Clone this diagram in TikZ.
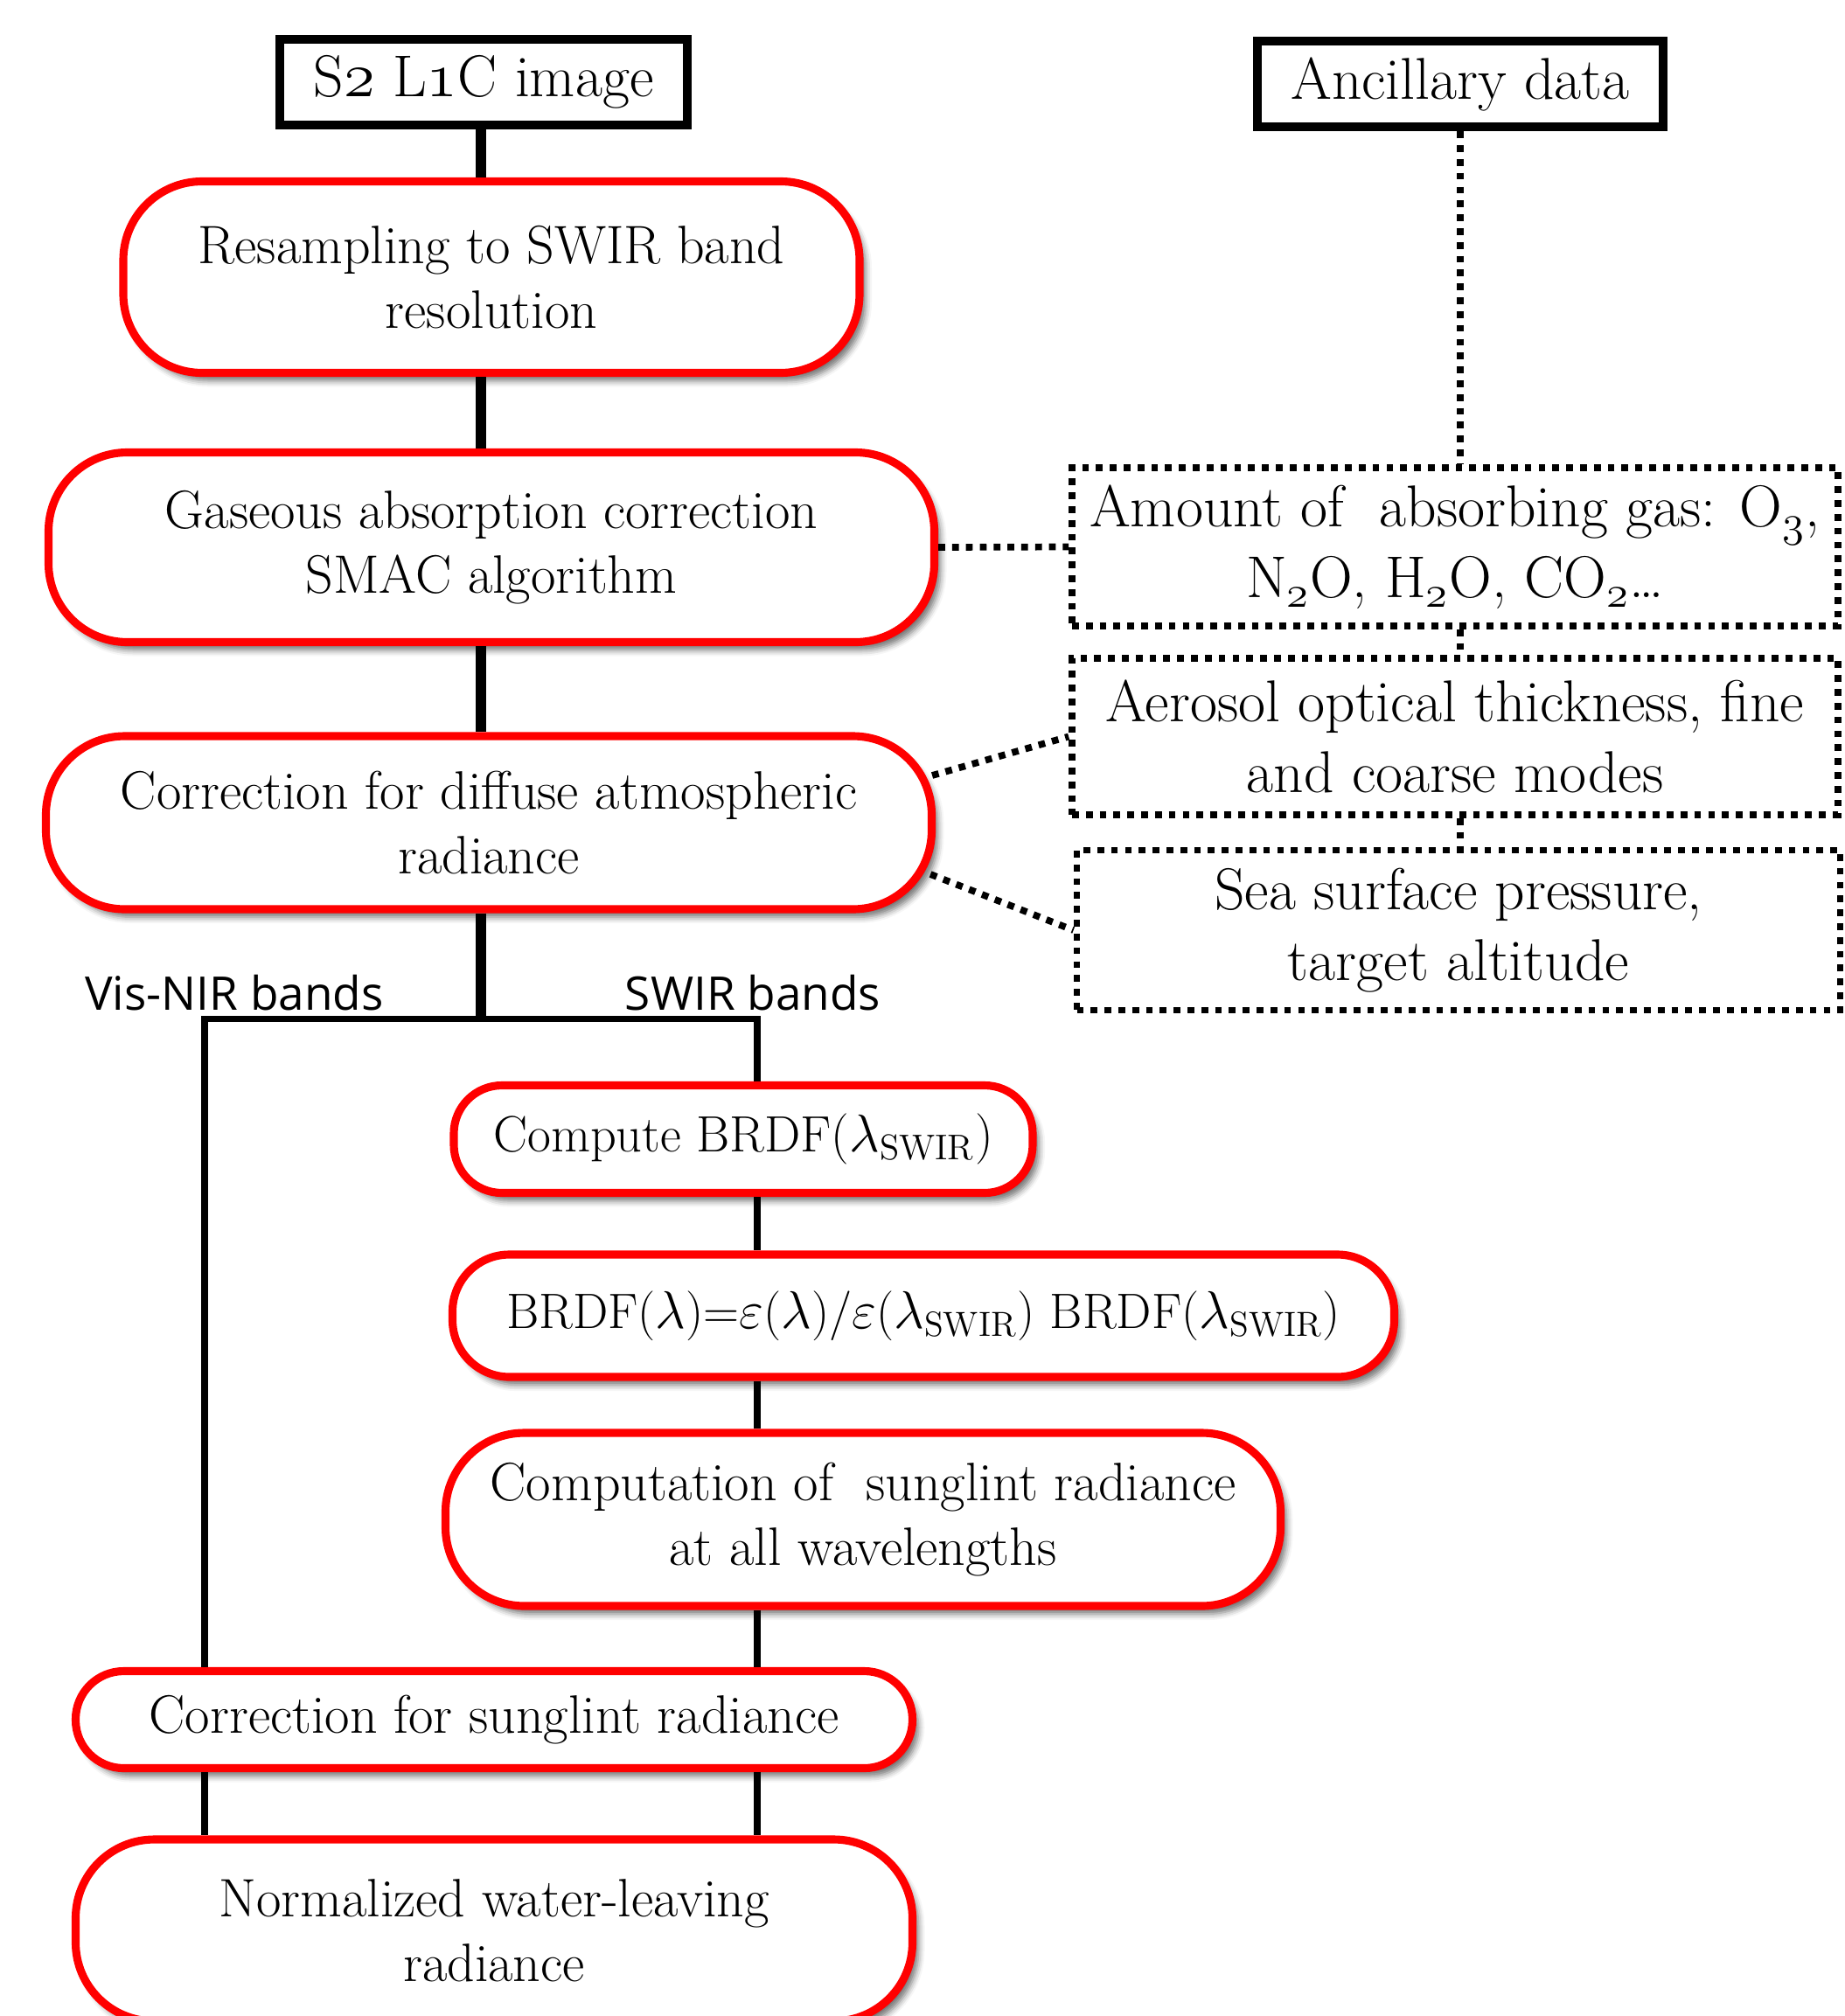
\documentclass[tikz,border=0pt]{standalone}
\usepackage{fontspec}
\setsansfont{Open Sans}
\usetikzlibrary{shadows.blur}
\newcommand{\osn}[1]{\ensuremath{\mathnormal{#1}}}
\begin{document}
\begin{tikzpicture}[
  redbox/.style={draw=red, line width=2.6pt, fill=white, rounded corners=0.9cm,
    blur shadow={shadow xshift=0.07cm, shadow yshift=-0.09cm, shadow blur radius=0.07cm, shadow opacity=55},
    align=center, inner sep=0pt, font=\fontsize{17.6}{21}\selectfont},
  shortbox/.style={redbox, rounded corners=0.55cm},
  blackbox/.style={draw, line width=3pt, fill=white, inner sep=0pt,
    font=\fontsize{19.2}{22}\selectfont},
  dotbox/.style={draw, line width=2.2pt, dash pattern=on 2.2pt off 2.3pt, align=center,
    inner sep=0pt, font=\fontsize{19.2}{23}\selectfont},
  trunk/.style={line width=3.2pt},
  branch/.style={line width=2pt},
  dotline/.style={line width=2.2pt, dash pattern=on 2.2pt off 2.3pt},
  bandlabel/.style={anchor=base, font=\sffamily\fontsize{15.1}{18}\selectfont}]
  \useasboundingbox (0,0) rectangle (21.10,-23.06);

  \node (s2) at (5.53,-0.94) [blackbox, minimum width=4.66cm, minimum height=0.98cm] {S\osn{2} L\osn{1}C image};
  \node (ancil) at (16.70,-0.96) [blackbox, minimum width=4.64cm, minimum height=0.98cm] {Ancillary data};

  \node (resamp) at (5.62,-3.17) [redbox, minimum width=8.42cm, minimum height=2.19cm] {Resampling to SWIR band\\resolution};
  \node (gas) at (5.62,-6.26) [redbox, minimum width=10.13cm, minimum height=2.17cm] {Gaseous absorption correction\\SMAC algorithm};
  \node (diffuse) at (5.59,-9.41) [redbox, minimum width=10.13cm, minimum height=1.98cm] {Correction for diffuse atmospheric\\radiance};
  \node (compute) at (8.50,-13.03) [shortbox, font=\fontsize{16.6}{20}\selectfont, minimum width=6.62cm, minimum height=1.23cm] {Compute BRDF($\lambda_{\mathrm{SWIR}}$)};
  \node (brdf) at (10.56,-15.05) [shortbox, font=\fontsize{16.2}{20}\selectfont, rounded corners=0.65cm, minimum width=10.77cm, minimum height=1.40cm] {BRDF($\lambda$)=$\varepsilon$($\lambda$)/$\varepsilon$($\lambda_{\mathrm{SWIR}}$) BRDF($\lambda_{\mathrm{SWIR}}$)};
  \node (sunglint) at (9.87,-17.38) [redbox, minimum width=9.55cm, minimum height=1.98cm] {Computation of~ sunglint radiance\\at all wavelengths};
  \node (corrsun) at (5.65,-19.67) [shortbox, minimum width=9.57cm, minimum height=1.11cm] {Correction for sunglint radiance};
  \node (normal) at (5.65,-22.08) [redbox, minimum width=9.57cm, minimum height=2.08cm] {Normalized water-leaving\\radiance};

  \node (amount) at (16.64,-6.255) [dotbox, minimum width=8.76cm, minimum height=1.81cm] {Amount of~ absorbing gas: O$_{\osn{3}}$,\\N$_{\osn{2}}$O, H$_{\osn{2}}$O, CO$_{\osn{2}}$\dots};
  \node (aerosol) at (16.64,-8.425) [dotbox, minimum width=8.76cm, minimum height=1.79cm] {Aerosol optical thickness, fine\\and coarse modes};
  \node (sea) at (16.68,-10.64) [dotbox, minimum width=8.73cm, minimum height=1.83cm] {Sea surface pressure,\\target altitude};

  \node (visnir) at (2.68,-11.55) [bandlabel] {Vis-NIR bands};
  \node (swir) at (8.61,-11.55) [bandlabel] {SWIR bands};

  \coordinate (split) at (5.50,-11.65);
  \coordinate (visl) at (2.34,-11.65);
  \coordinate (swirr) at (8.66,-11.65);

  \draw[trunk] (s2.south -| split) -- (resamp.north -| split);
  \draw[trunk] (resamp.south -| split) -- (gas.north -| split);
  \draw[trunk] (gas.south -| split) -- (diffuse.north -| split);
  \draw[trunk] (diffuse.south -| split) -- (split);
  \draw[branch, line cap=rect] (visl) -- (swirr);
  \draw[branch] (visl) -- (corrsun.north -| visl);
  \draw[branch] (corrsun.south -| visl) -- (normal.north -| visl);
  \draw[branch] (swirr) -- (compute.north -| swirr);
  \draw[branch] (compute.south -| swirr) -- (brdf.north -| swirr);
  \draw[branch] (brdf.south -| swirr) -- (sunglint.north -| swirr);
  \draw[branch] (sunglint.south -| swirr) -- (corrsun.north -| swirr);
  \draw[branch] (corrsun.south -| swirr) -- (normal.north -| swirr);

  \draw[dotline] (ancil.south) -- (amount.north -| ancil);
  \draw[dotline] (amount.south -| ancil) -- (aerosol.north -| ancil);
  \draw[dotline] (aerosol.south -| ancil) -- (sea.north -| ancil);
  \draw[dotline] (gas.east) -- (amount.west);
  \draw[dotline] ([shift={(-0.04,0.54)}]diffuse.east) -- (aerosol.west);
  \draw[dotline] ([shift={(-0.06,-0.59)}]diffuse.east) -- (sea.west);
\end{tikzpicture}
\end{document}
